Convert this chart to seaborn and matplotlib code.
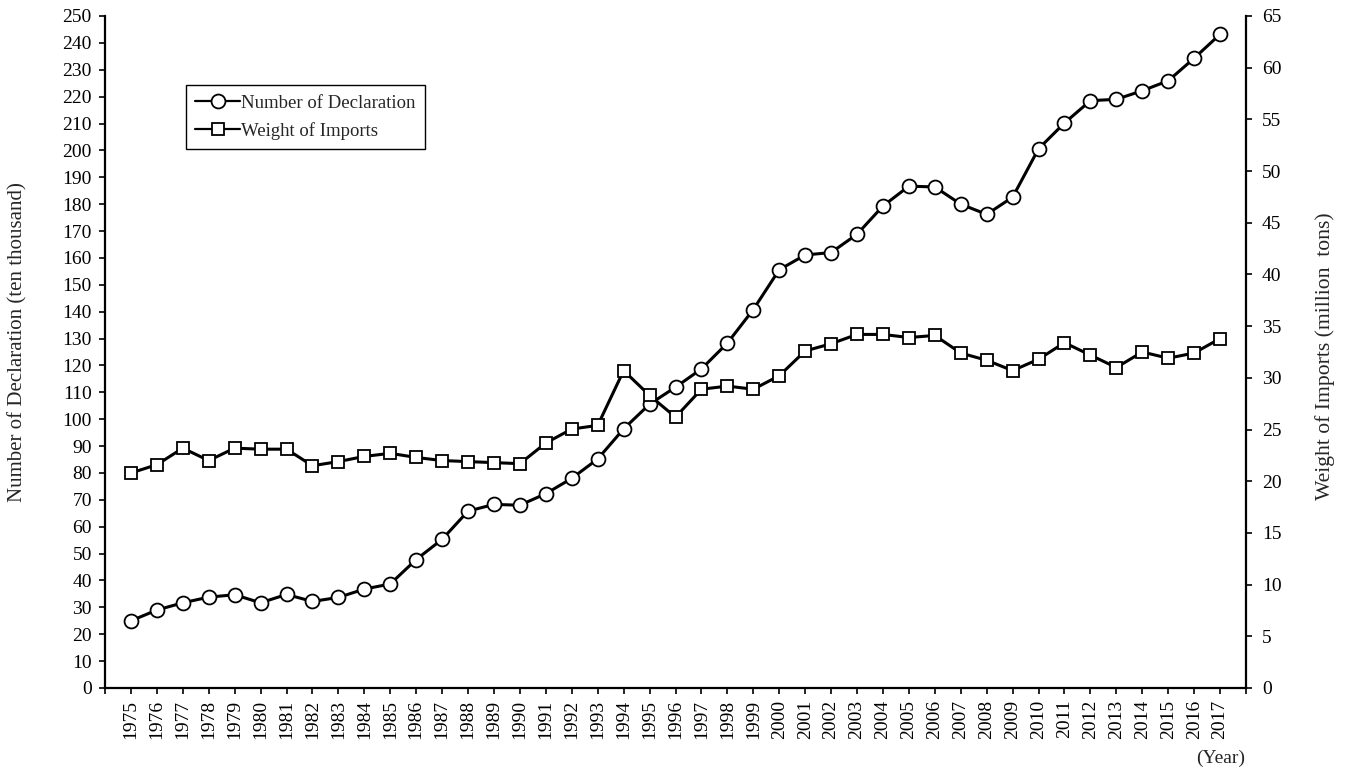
import matplotlib
matplotlib.use("Agg")
import matplotlib.pyplot as plt
import seaborn as sns
import numpy as np

years = list(range(1975, 2018))
declarations = [25.0, 29.0, 31.7, 33.8, 34.7, 31.7, 34.8, 32.2, 33.7, 36.8,
                38.7, 47.8, 55.3, 65.8, 68.3, 68.0, 72.3, 78.0, 85.2, 96.4,
                105.6, 111.9, 118.7, 128.3, 140.8, 155.6, 161.1, 162.0, 168.8, 179.3,
                186.7, 186.4, 180.0, 176.2, 182.6, 200.6, 210.2, 218.5, 219.0, 222.2,
                225.9, 234.3, 243.2]
weights = [20.8, 21.6, 23.2, 22.0, 23.2, 23.1, 23.1, 21.5, 21.9, 22.4,
           22.7, 22.3, 22.0, 21.9, 21.8, 21.7, 23.7, 25.05, 25.4, 30.7,
           28.3, 26.2, 28.9, 29.2, 28.9, 30.2, 32.6, 33.3, 34.2, 34.2,
           33.9, 34.1, 32.4, 31.7, 30.7, 31.8, 33.4, 32.2, 31.0, 32.5,
           31.9, 32.4, 33.8]
left_label = "Number of Declaration (ten thousand)"
right_label = "Weight of Imports (million  tons)"
series_names = ["Number of Declaration", "Weight of Imports"]

sns.set_theme(style="white")
plt.rcParams['font.family'] = ['Liberation Serif', 'DejaVu Serif']
plt.rcParams['font.size'] = 14

TICK_FS = 14
LABEL_FS = 15
LEG_FS = 13.5

fig = plt.figure(figsize=(13.54, 7.76), dpi=100)
ax = fig.add_axes([105/1354, 1-688/776, (1246-105)/1354, (688-16)/776])
ax2 = ax.twinx()

pos = np.arange(len(years))

sns.lineplot(x=pos, y=declarations, ax=ax, color='black', linewidth=2.2,
             marker='o', markersize=10, markerfacecolor='white',
             markeredgecolor='black', markeredgewidth=1.3, label=series_names[0], legend=False)
sns.lineplot(x=pos, y=weights, ax=ax2, color='black', linewidth=2.2,
             marker='s', markersize=8.7, markerfacecolor='white',
             markeredgecolor='black', markeredgewidth=1.3, label=series_names[1], legend=False)

ax.set_xlim(-1, len(years))
ax.set_ylim(0, 250)
ax2.set_ylim(0, 65)
ax.set_yticks(np.arange(0, 251, 10))
ax2.set_yticks(np.arange(0, 66, 5))
ax.set_xticks(np.arange(-1, len(years) + 1))
ax.set_xticklabels([''] + [str(y) for y in years] + [''], rotation=90)

for a in (ax, ax2):
    a.spines['top'].set_visible(False)
    for s in ('left', 'right', 'bottom'):
        a.spines[s].set_color('black')
        a.spines[s].set_linewidth(1.6)
    a.tick_params(direction='out', length=4.5, width=1.2, colors='black', labelsize=TICK_FS)
    a.grid(False)
ax.spines['right'].set_visible(False)
ax2.spines['left'].set_visible(False)
ax2.spines['bottom'].set_visible(False)
ax.tick_params(axis='y', left=True, pad=5)
ax.tick_params(axis='x', bottom=True, pad=4)
ax2.tick_params(axis='y', right=True, pad=7)

ax.set_ylabel(left_label, fontsize=LABEL_FS)
ax2.set_ylabel(right_label, fontsize=15.6)
ax.set_xlabel('')
ax2.set_xlabel('')
ax.yaxis.set_label_coords((18-105)/1141, (688-342)/672)
ax.yaxis.label.set_verticalalignment('center')
ax2.yaxis.set_label_coords((1325-105)/1141, (688-356)/672)
ax2.yaxis.label.set_verticalalignment('center')

h1, l1 = ax.get_legend_handles_labels()
h2, l2 = ax2.get_legend_handles_labels()
leg = ax2.legend(h1 + h2, l1 + l2, loc='upper left', bbox_to_anchor=((186-105)/1141, (688-85)/672),
                 frameon=True, fancybox=False, framealpha=1, edgecolor='black',
                 fontsize=LEG_FS, handlelength=2.4, handletextpad=0.05, borderpad=0.5,
                 labelspacing=0.55, borderaxespad=0)
leg.get_frame().set_linewidth(1.0)
for h in leg.legend_handles:
    h.set_linewidth(1.6)

fig.text(1245/1354, 1-758/776, '(Year)', ha='right', va='center', fontsize=TICK_FS)

fig.savefig('out.png', dpi=100)
